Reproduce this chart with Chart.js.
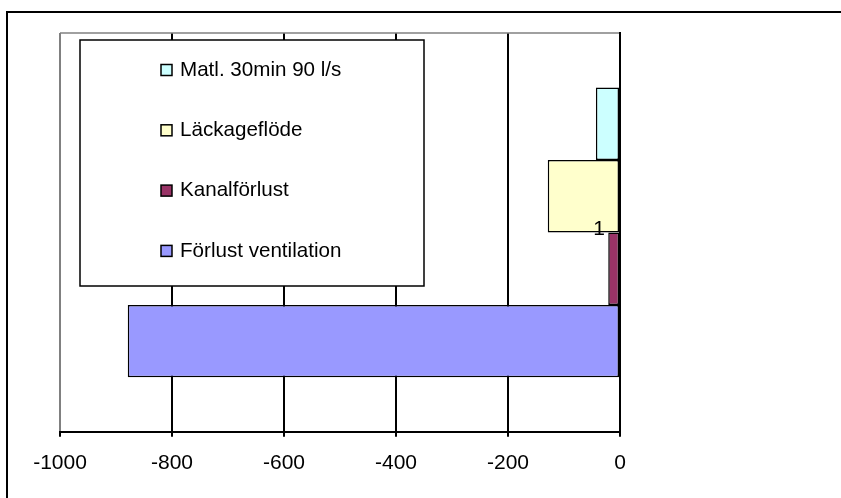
<!DOCTYPE html>
<html>
<head>
<meta charset="utf-8">
<script src="https://cdn.jsdelivr.net/npm/chart.js@4/dist/chart.umd.min.js"></script>
<style>
  html, body { margin: 0; padding: 0; background: #fff; overflow: hidden; }
  canvas { display: block; }
</style>
</head>
<body>
<canvas id="chart" width="841" height="498"></canvas>
<script>
// Energy balance, one category, four loss components (negative values)
const categories = ['1'];
const seriesNames = ['Matl. 30min 90 l/s', 'Läckageflöde', 'Kanalförlust', 'Förlust ventilation'];
const matlValues = [-43];
const lackageValues = [-129];
const kanalValues = [-21];
const ventilationValues = [-879];
const xTickValues = [-1000, -800, -600, -400, -200, 0];

const FONT = "'Liberation Sans', Arial, Helvetica, sans-serif";
Chart.defaults.font.family = FONT;
Chart.defaults.color = '#000';

// Outer frame and grey plot-area top edge
const framePlugin = {
  id: 'frame',
  beforeDatasetsDraw(chart) {
    const { ctx, chartArea } = chart;
    ctx.save();
    ctx.strokeStyle = '#808080';
    ctx.lineWidth = 1.5;
    ctx.beginPath();
    ctx.moveTo(chartArea.left, chartArea.top);
    ctx.lineTo(chartArea.right, chartArea.top);
    ctx.stroke();
    ctx.restore();
  },
  afterDraw(chart) {
    const { ctx, width, height } = chart;
    ctx.save();
    ctx.strokeStyle = '#000';
    ctx.lineWidth = 2;
    ctx.beginPath();
    ctx.moveTo(7, height);
    ctx.lineTo(7, 12);
    ctx.lineTo(width, 12);
    ctx.stroke();
    ctx.restore();
  }
};

// Boxed legend floating inside the plot area
const boxLegendPlugin = {
  id: 'boxLegend',
  afterDraw(chart, args, opts) {
    const { ctx } = chart;
    const b = opts.box;
    ctx.save();
    ctx.fillStyle = '#fff';
    ctx.fillRect(b.x, b.y, b.w, b.h);
    ctx.strokeStyle = '#000';
    ctx.lineWidth = 1.5;
    ctx.strokeRect(b.x, b.y, b.w, b.h);
    ctx.font = opts.fontSize + 'px ' + FONT;
    ctx.textBaseline = 'middle';
    ctx.textAlign = 'left';
    chart.data.datasets.forEach((ds, i) => {
      const cy = opts.firstY + i * opts.step;
      ctx.fillStyle = ds.backgroundColor;
      ctx.fillRect(opts.markerX, cy - opts.marker / 2, opts.marker, opts.marker);
      ctx.strokeStyle = '#000';
      ctx.lineWidth = 1.5;
      ctx.strokeRect(opts.markerX, cy - opts.marker / 2, opts.marker, opts.marker);
      ctx.fillStyle = '#000';
      ctx.fillText(ds.label, opts.textX, cy);
    });
    ctx.restore();
  }
};

const barStyle = { borderColor: '#000', borderWidth: 1.5, borderSkipped: false };

new Chart(document.getElementById('chart'), {
  type: 'bar',
  data: {
    labels: categories,
    datasets: [
      { label: seriesNames[0], data: matlValues, backgroundColor: '#CCFFFF', ...barStyle },
      { label: seriesNames[1], data: lackageValues, backgroundColor: '#FFFFCC', ...barStyle },
      { label: seriesNames[2], data: kanalValues, backgroundColor: '#993366', ...barStyle },
      { label: seriesNames[3], data: ventilationValues, backgroundColor: '#9999FF', ...barStyle }
    ]
  },
  options: {
    indexAxis: 'y',
    responsive: false,
    animation: false,
    devicePixelRatio: 1,
    layout: { padding: { left: 60, top: 33, right: 221, bottom: 8 } },
    datasets: { bar: { categoryPercentage: 0.727, barPercentage: 1 } },
    scales: {
      x: {
        type: 'linear',
        min: xTickValues[0],
        max: xTickValues[xTickValues.length - 1],
        afterBuildTicks: s => { s.ticks = xTickValues.map(v => ({ value: v })); },
        grid: {
          color: c => (c.tick && c.tick.value === xTickValues[0]) ? '#808080' : '#000',
          lineWidth: 2,
          tickColor: '#000',
          tickLength: 5,
          drawTicks: true
        },
        border: { display: true, color: '#000', width: 2 },
        ticks: {
          font: { size: 21 }, color: '#000', padding: 14, maxRotation: 0,
          callback: v => String(v)
        }
      },
      y: {
        position: 'right',
        afterFit: s => { s.width = 0; },
        grid: { display: false, drawTicks: false },
        border: { display: true, color: '#000', width: 2, z: 1 },
        ticks: { mirror: true, padding: -15, labelOffset: -3, z: 1, font: { size: 21 }, color: '#000' }
      }
    },
    plugins: {
      legend: { display: false },
      tooltip: { enabled: false },
      boxLegend: {
        box: { x: 80, y: 40, w: 344, h: 246 },
        markerX: 161, marker: 11,
        textX: 180, firstY: 70, step: 60.3,
        fontSize: 20.6
      }
    }
  },
  plugins: [framePlugin, boxLegendPlugin]
});
</script>
</body>
</html>
